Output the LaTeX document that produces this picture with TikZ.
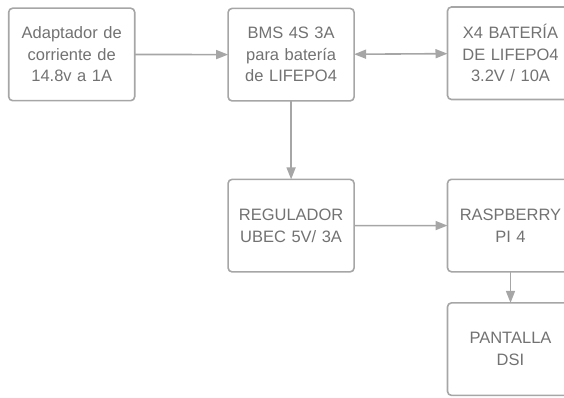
\documentclass[tikz,border=0pt]{standalone}
\usepackage{fontspec}
\setmainfont{Liberation Sans}
\usetikzlibrary{matrix,arrows.meta,positioning}
\definecolor{linegray}{HTML}{A6A6A6}
\definecolor{textgray}{HTML}{727272}

\begin{document}
\begin{tikzpicture}[
  >={Triangle[length=12pt,width=9pt]},
  blk/.style={draw=linegray,line width=1.6pt,rounded corners=4pt,minimum width=126pt,minimum height=92.5pt,
    text width=120pt,align=center,text=textgray,font=\fontsize{16.5}{21.5}\selectfont,inner sep=3pt,outer sep=0pt},
  flow/.style={draw=linegray,line width=1.6pt}
]
  \useasboundingbox (0pt,0pt) rectangle (564pt,-397pt);
    \matrix (diag) [matrix of nodes,nodes={blk},column sep=91.8pt,inner sep=0pt,outer sep=0pt,anchor=north west] at (7.9pt,-6.2pt)
  {
	{Adaptador de\\corriente de\\14.8v a 1A} & {BMS 4S 3A\\para batería\\de LIFEPO4} & {X4 BATERÍA\\DE LIFEPO4\\3.2V / 10A} \\[76.8pt]
	 & {REGULADOR\\UBEC 5V/ 3A} & {RASPBERRY\\PI 4} \\[29.4pt]
	 & & {PANTALLA\\DSI} \\
  };
	\draw[flow,->] (diag-1-1) to (diag-1-2);
	\draw[flow,<->] (diag-1-2) to (diag-1-3);
	\draw[flow,->] (diag-1-2) to (diag-2-2);
	\draw[flow,->] (diag-2-2) to (diag-2-3);
	\draw[flow,->] (diag-2-3) to (diag-3-3);
\end{tikzpicture}
\end{document}
